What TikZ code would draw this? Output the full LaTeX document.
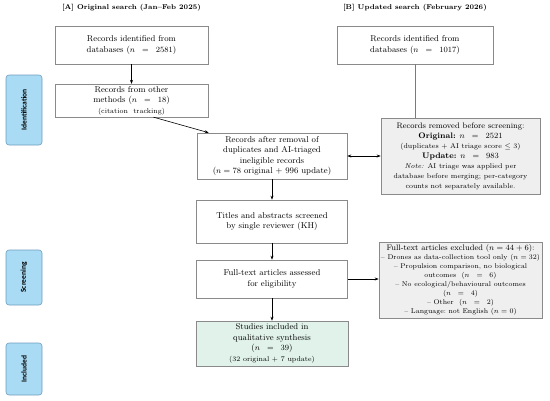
\documentclass[tikz,border=0pt]{standalone}
\usepackage{fontspec}
\newfontfamily\phasefont{Carlito}
\usetikzlibrary{arrows.meta}
\definecolor{bordergray}{HTML}{8A8A8A}
\definecolor{boxgray}{HTML}{EFEFEF}
\definecolor{boxgreen}{HTML}{E0F2EA}
\definecolor{phasefill}{HTML}{A9DBF4}
\definecolor{phaseborder}{HTML}{6E9DBE}
\definecolor{linkgray}{HTML}{7A7A7A}
\newcommand\weq{\;\;=\;\;}
\newcommand\smalltxt{\fontsize{7}{8.6}\selectfont}
\begin{document}
\begin{tikzpicture}[x=1pt,y=-1pt,
  box/.style={draw=bordergray, line width=0.6pt, fill=white, align=center, inner sep=2pt,
    font={\fontsize{8.5}{10.5}\selectfont}},
  graybox/.style={box, fill=boxgray},
  greenbox/.style={box, fill=boxgreen},
  phase/.style={draw=phaseborder, line width=0.6pt, fill=phasefill, rounded corners=3pt,
    rotate=90, minimum height=36pt, inner sep=1pt, font={\phasefont\bfseries\fontsize{7.5}{8}\selectfont}},
  header/.style={font={\bfseries\fontsize{7}{8.5}\selectfont}},
  arr/.style={-{Stealth[length=4pt,width=3pt]}, line width=0.6pt, black},
  darr/.style={{Stealth[length=4pt,width=3pt]}-{Stealth[length=4pt,width=3pt]}, line width=0.6pt, black}
]
\useasboundingbox (0,0) rectangle (550,400);

% headers
\node[header] (hA) at (131.5,8) {[A] Original search (Jan--Feb 2025)};
\node[header] (hB) at (415,8) {[B] Updated search (February 2026)};

% phases
\node[phase, minimum width=70pt] (pI) at (24,110) {Identification};
\node[phase, minimum width=55pt] (pS) at (24,277.5) {Screening};
\node[phase, minimum width=52pt] (pN) at (24,369) {Included};

% left column
\node[box, minimum width=153pt, minimum height=38pt] (db1) at (131.5,45)
  {Records identified from\\databases ($n\weq2581$)};
\node[box, minimum width=153pt, minimum height=31pt] (oth) at (131.5,100.5)
  {Records from other\\methods ($n\weq18$)\\{\smalltxt (citation\ \ tracking)}};

% right top
\node[box, minimum width=156pt, minimum height=38pt] (db2) at (415,45)
  {Records identified from\\databases ($n\weq1017$)};

% middle column
\node[box, minimum width=150pt, minimum height=46pt] (dup) at (272,156)
  {Records after removal of\\duplicates and AI-triaged\\ineligible records\\($n = 78$ original + 996 update)};
\node[box, minimum width=151pt, minimum height=43pt] (tia) at (272,221.5)
  {Titles and abstracts screened\\by single reviewer (KH)};
\node[box, minimum width=151pt, minimum height=38pt] (ful) at (272,279)
  {Full-text articles assessed\\for eligibility};
\node[greenbox, minimum width=152pt, minimum height=45pt] (inc) at (272,343.5)
  {Studies included in\\qualitative synthesis\\($n\weq39$)\\{\smalltxt (32 original\ + 7 update)}};

% right column
\node[graybox, minimum width=159pt, minimum height=76pt, font={\fontsize{8}{10}\selectfont}] (rem) at (460.5,156)
  {Records removed before screening:\\
   \textbf{Original:} $n\weq2521$\\
   {\smalltxt (duplicates + AI triage score $\le$ 3)}\\
   \textbf{Update:} $n\weq983$\\
   {\smalltxt \textit{Note:} AI triage was applied per}\\
   {\smalltxt database before merging; per-category}\\
   {\smalltxt counts not separately available.}};
\node[graybox, minimum width=161pt, minimum height=76pt, font={\fontsize{6.9}{8.9}\selectfont}] (exc) at (460.5,280)
  {{\fontsize{8}{8.9}\selectfont Full-text articles excluded ($n = 44 + 6$):}\\
   -- Drones as data-collection tool only ($n = 32$)\\
   -- Propulsion comparison, no biological\\
   outcomes\ \ ($n\weq6$)\\
   -- No ecological/behavioural outcomes\\
   ($n\weq4$)\\
   -- Other\ \ ($n\weq2$)\\
   -- Language:\ not English ($n = 0$)};

% connectors
\draw[arr] (db1) -- (oth);
\draw[arr] ([xshift=22pt]oth.south) -- ([xshift=12pt]dup.north west);
\draw[linkgray, line width=0.8pt] (db2.south) -- (db2.south |- rem.north);
\draw[darr] (dup.east) -- (rem.west);
\draw[arr] (dup) -- (tia);
\draw[arr] (tia) -- (ful);
\draw[arr] (ful.east) -- (ful.east -| exc.west);
\draw[arr] (ful) -- (inc);
\end{tikzpicture}
\end{document}
